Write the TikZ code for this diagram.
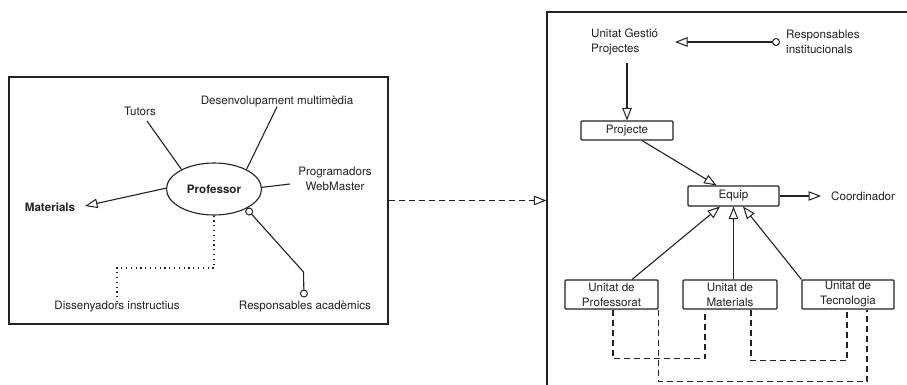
\documentclass[tikz,border=0pt]{standalone}
\usepackage{fontspec}
\setmainfont{TeX Gyre Heros}
\usetikzlibrary{arrows.meta,shapes.geometric}
\definecolor{ink}{HTML}{222222}
\tikzset{
  oc/.tip={Circle[open,length=8pt,line width=1pt]},
  ot/.tip={Triangle[open,length=12.5pt,width=9.5pt,line width=1pt]}
}
\begin{document}
\begin{tikzpicture}[x=1pt,y=-1pt,
  every node/.style={font=\fontsize{11.6}{15}\selectfont, text=ink, inner sep=0pt},
  ln/.style={draw=ink, line width=1.1pt},
  tri/.style={-ot},
  boxn/.style={draw=ink, line width=1.1pt, rectangle, rounded corners=1pt},
  frame/.style={draw=ink, line width=1.3pt, rectangle},
  dashln/.style={ln, dash pattern=on 6pt off 4pt},
  dotln/.style={ln, line width=1.2pt, dash pattern=on 1.2pt off 3.6pt}
]
\clip (0,0) rectangle (907,385);
\fill[white] (0,0) rectangle (907,385);

% frames
\node[frame, minimum width=379pt, minimum height=247pt] (lbox) at (198.5,200.5) {};
\node[frame, minimum width=380pt, minimum height=400pt] (rbox) at (737,212) {};
\draw[dashln, tri] (lbox.east) -- (lbox.east -| rbox.west);

% left part
\node[draw=ink, line width=1.1pt, ellipse, minimum width=95pt, minimum height=52pt, font=\fontsize{11.6}{15}\selectfont\bfseries] (prof) at (214,189) {Professor};
\node (tutors) at (140,111) {Tutors};
\node (desen) at (277,102) {Desenvolupament multimèdia};
\node[align=center] (progr) at (335,178.5) {Programadors\\WebMaster};
\node[font=\fontsize{11.6}{15}\selectfont\bfseries] (mat) at (50,207) {Materials};
\node (diss) at (117,307) {Dissenyadors instructius};
\node (racad) at (305,307) {Responsables acadèmics};

\coordinate (tutE) at (147,121);
\coordinate (progE) at (290,184);
\coordinate (matE) at (85,206);
\coordinate (dcorner) at (117,268);
\coordinate (rcorner) at (303.5,272);
\coordinate (racadN) at (304,297.5);

\draw[ln] (tutE) -- (prof.149);
\draw[ln] ([yshift=1pt]desen.south) -- (prof.31);
\draw[ln] (prof.2) -- (progE);
\draw[ln, tri] (prof.179) -- (matE);
\draw[dotln] (prof.south) |- (dcorner) -- ([yshift=-1pt]diss.north);
\draw[ln, oc-oc] (racadN) -- (rcorner) -- (prof.-31);

% right part
\node[align=left, anchor=west] (ugp) at (591,41.5) {Unitat Gestió\\Projectes};
\node[align=left, anchor=west] (rinst) at (786,41.5) {Responsables\\institucionals};
\node[boxn, minimum width=92pt, minimum height=19pt] (proj) at (627,130.5) {Projecte};
\node[boxn, minimum width=91pt, minimum height=20pt] (equip) at (733.5,196) {Equip};
\node[anchor=west] (coord) at (831,196) {Coordinador};
\node[boxn, align=center, minimum width=93pt, minimum height=29pt] (uprof) at (611.5,294.5) {Unitat de\\Professorat};
\node[boxn, align=center, minimum width=94pt, minimum height=29pt] (umat) at (730,294.5) {Unitat de\\Materials};
\node[boxn, align=center, minimum width=92pt, minimum height=29pt] (utec) at (848,294.5) {Unitat de\\Tecnologia};

\coordinate (ugpS) at (627,63);
\coordinate (rinstW) at (780,42);
\coordinate (ugpE) at (675,42);
\draw[ln, oc-ot] (rinstW) -- (ugpE);
\draw[ln, tri] (ugpS) -- (ugpS |- proj.north);
\draw[ln, tri] ([xshift=15pt]proj.south) -- ([xshift=-17pt]equip.north);
\draw[ln, tri] (equip.east) -- ([xshift=-10pt]coord.west);

\draw[ln, tri] ([xshift=20.5pt]uprof.north) -- ([xshift=-13.5pt]equip.south);
\draw[ln, tri] (equip.south |- umat.north) -- (equip.south);
\draw[ln, tri] (utec.north west) -- ([xshift=9.5pt]equip.south);

\draw[dashln] ([xshift=1.5pt]uprof.south) -- ++(0,49) -| ([xshift=-25pt]umat.south);
\draw[dashln] (uprof.south east) -- ++(0,72) -| ([xshift=19pt]utec.south);
\draw[dashln] ([xshift=21pt]umat.south) -- ++(0,51) -| ([xshift=-1pt]utec.south);
\end{tikzpicture}
\end{document}
